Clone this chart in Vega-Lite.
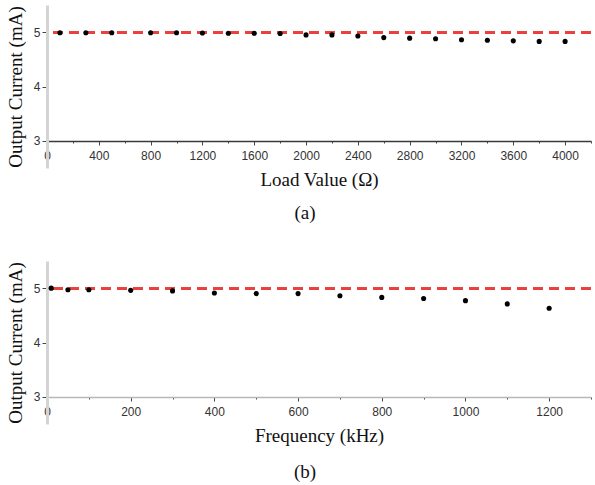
{
  "$schema": "https://vega.github.io/schema/vega-lite/v6.json",
  "background": "white",
  "padding": {"left": 6, "top": 5, "right": 3, "bottom": 0},
  "spacing": 38,
  "config": {
    "view": {"stroke": null},
    "axis": {
      "grid": false,
      "labelFont": "Liberation Sans",
      "labelFontSize": 12,
      "labelColor": "#333333",
      "titleFont": "Liberation Serif",
      "titleFontSize": 19,
      "titleFontWeight": "normal",
      "titleColor": "#111111",
      "tickColor": "#444444",
      "labelFlush": false,
      "labelOverlap": false
    },
    "title": {"font": "Liberation Serif", "fontSize": 19, "fontWeight": "normal", "color": "#111111"}
  },
  "datasets": {
    "load": [
      {"load": 100, "current": 4.99}, {"load": 300, "current": 4.99}, {"load": 500, "current": 4.99},
      {"load": 800, "current": 4.99}, {"load": 1000, "current": 4.99}, {"load": 1200, "current": 4.985},
      {"load": 1400, "current": 4.98}, {"load": 1600, "current": 4.98}, {"load": 1800, "current": 4.975},
      {"load": 2000, "current": 4.95}, {"load": 2200, "current": 4.95}, {"load": 2400, "current": 4.93},
      {"load": 2600, "current": 4.9}, {"load": 2800, "current": 4.89}, {"load": 3000, "current": 4.88},
      {"load": 3200, "current": 4.86}, {"load": 3400, "current": 4.85}, {"load": 3600, "current": 4.84},
      {"load": 3800, "current": 4.83}, {"load": 4000, "current": 4.83}
    ],
    "freq": [
      {"freq": 10, "current": 5.0}, {"freq": 50, "current": 4.97}, {"freq": 100, "current": 4.97},
      {"freq": 200, "current": 4.96}, {"freq": 300, "current": 4.95}, {"freq": 400, "current": 4.91},
      {"freq": 500, "current": 4.9}, {"freq": 600, "current": 4.9}, {"freq": 700, "current": 4.86},
      {"freq": 800, "current": 4.83}, {"freq": 900, "current": 4.81}, {"freq": 1000, "current": 4.77},
      {"freq": 1100, "current": 4.71}, {"freq": 1200, "current": 4.63}
    ]
  },
  "vconcat": [
    {
      "width": 544,
      "height": 163,
      "title": {"text": "(a)", "orient": "bottom", "anchor": "middle", "dx": -14, "offset": 15},
      "data": {"name": "load"},
      "layer": [
        {
          "mark": {"type": "rule", "color": "#e8413f", "strokeWidth": 2, "strokeDash": [10, 6]},
          "encoding": {"y": {"datum": 5, "type": "quantitative"}}
        },
        {
          "mark": {"type": "circle", "color": "#000000", "size": 26, "opacity": 1},
          "encoding": {
            "x": {
              "field": "load", "type": "quantitative",
              "scale": {"domain": [0, 4200], "nice": false},
              "axis": {
                "title": "Load Value (Ω)",
                "offset": -27,
                "values": [0, 200, 400, 600, 800, 1000, 1200, 1400, 1600, 1800, 2000, 2200, 2400, 2600, 2800, 3000, 3200, 3400, 3600, 3800, 4000, 4200],
                "labelExpr": "datum.value % 400 === 0 && datum.value <= 4000 ? '' + datum.value : ''",
                "tickSize": {"condition": {"test": "datum.value % 400 === 0", "value": 4}, "value": 2},
                "domainColor": "#3a3a3a",
                "domainWidth": 1.5,
                "labelPadding": 5,
                "titlePadding": 9
              }
            },
            "y": {
              "field": "current", "type": "quantitative",
              "scale": {"domain": [2.5, 5.5], "nice": false, "zero": false},
              "axis": {
                "title": "Output Current (mA)",
                "values": [3, 4, 5],
                "format": "d",
                "tickSize": 5,
                "domainColor": "#d4d4d4",
                "domainWidth": 3,
                "labelPadding": 2,
                "titlePadding": 8
              }
            }
          }
        }
      ]
    },
    {
      "width": 544,
      "height": 163,
      "title": {"text": "(b)", "orient": "bottom", "anchor": "middle", "dx": -14, "offset": 18},
      "data": {"name": "freq"},
      "layer": [
        {
          "mark": {"type": "rule", "color": "#e8413f", "strokeWidth": 2, "strokeDash": [10, 6]},
          "encoding": {"y": {"datum": 5, "type": "quantitative"}}
        },
        {
          "mark": {"type": "circle", "color": "#000000", "size": 26, "opacity": 1},
          "encoding": {
            "x": {
              "field": "freq", "type": "quantitative",
              "scale": {"domain": [0, 1300], "nice": false},
              "axis": {
                "title": "Frequency (kHz)",
                "offset": -27,
                "values": [0, 100, 200, 300, 400, 500, 600, 700, 800, 900, 1000, 1100, 1200, 1300],
                "labelExpr": "datum.value % 200 === 0 ? '' + datum.value : ''",
                "tickSize": {"condition": {"test": "datum.value % 200 === 0", "value": 4}, "value": 2},
                "domainColor": "#b8b8b8",
                "domainWidth": 1.5,
                "labelPadding": 5,
                "titlePadding": 9
              }
            },
            "y": {
              "field": "current", "type": "quantitative",
              "scale": {"domain": [2.5, 5.5], "nice": false, "zero": false},
              "axis": {
                "title": "Output Current (mA)",
                "values": [3, 4, 5],
                "format": "d",
                "tickSize": 5,
                "domainColor": "#d4d4d4",
                "domainWidth": 3,
                "labelPadding": 2,
                "titlePadding": 8
              }
            }
          }
        }
      ]
    }
  ]
}
